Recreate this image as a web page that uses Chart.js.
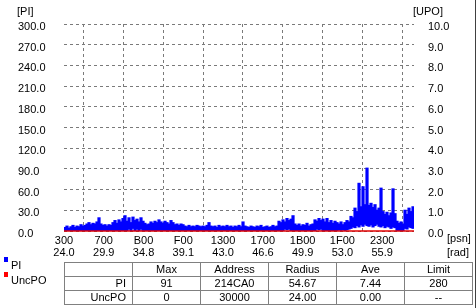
<!DOCTYPE html>
<html><head><meta charset="utf-8">
<script src="https://cdn.jsdelivr.net/npm/chart.js@4/dist/chart.umd.min.js"></script>
<style>
html,body{margin:0;padding:0;background:#fff;}
body{width:476px;height:308px;position:relative;overflow:hidden;font-family:"Liberation Sans",Arial,sans-serif;font-size:11px;color:#000;}
#wrap{position:absolute;left:0;top:0;width:476px;height:308px;}
.lbl{position:absolute;line-height:13px;white-space:nowrap;}
.sq{position:absolute;width:4px;height:5px;}
table{position:absolute;left:64px;top:262px;border-collapse:collapse;table-layout:fixed;width:409px;}
td{border:1px solid #808080;height:13px;padding:0;line-height:13px;text-align:center;font-size:11px;overflow:hidden;white-space:nowrap;}
td.h{text-align:right;padding-right:6px;}
#frame{position:absolute;left:475px;top:0;width:1px;height:308px;background:#404040;}
</style></head>
<body>
<div id="wrap"><canvas id="c" width="476" height="308"></canvas></div>
<div class="lbl" style="left:17px;top:5px;">[PI]</div>
<div class="lbl" style="left:413px;top:5px;">[UPO]</div>
<div class="lbl" style="left:447px;top:232px;">[psn]</div>
<div class="lbl" style="left:447px;top:246px;">[rad]</div>
<div class="sq" style="left:4px;top:257px;background:#0000ff;"></div>
<div class="lbl" style="left:11px;top:259px;">PI</div>
<div class="sq" style="left:4px;top:272px;background:#ff0000;"></div>
<div class="lbl" style="left:11px;top:274px;">UncPO</div>
<table id="tbl">
<colgroup><col style="width:68px"><col style="width:68px"><col style="width:68px"><col style="width:68px"><col style="width:68px"><col style="width:68px"></colgroup>
<tbody id="tb"></tbody>
</table>
<div id="frame"></div>
<script>
// ---- data ----
const psnTicks = [0x300, 0x700, 0xB00, 0xF00, 0x1300, 0x1700, 0x1B00, 0x1F00, 0x2300];
const hexLabels = ['300', '700', 'B00', 'F00', '1300', '1700', '1B00', '1F00', '2300'];
const radLabels = ['24.0', '29.9', '34.8', '39.1', '43.0', '46.6', '49.9', '53.0', '55.9'];
const psnStart = 0x300;
const psnEnd = 9780;
const psnStep = 51.5;

const piMax = [
  5,7,4,6,8,5,7,6,9,7,8,10,12,9,11,10,13,19,10,8,9,7,9,8,12,
  15,11,16,13,18,22,14,19,12,20,15,17,13,19,14,11,9,10,13,11,14,12,16,13,11,
  14,12,10,15,12,9,10,8,10,9,7,6,8,6,7,6,8,7,6,7,6,8,12,7,6,
  7,5,8,6,7,6,8,6,7,5,7,6,8,6,13,7,6,5,7,6,5,7,6,8,5,
  6,7,5,6,8,6,7,14,12,16,13,18,15,17,22,10,8,10,7,9,8,11,7,9,10,
  16,14,18,15,17,13,18,12,15,11,14,12,10,13,9,12,15,13,21,19,33,28,69,35,64,
  38,91,37,40,34,38,30,33,62,28,24,27,22,26,61,25,14,11,13,10,30,24,33,28,35
];
const piMin = [
  0,0,0,0,0,0,0,0,0,0,0,0,0,0,0,0,0,0,0,0,0,0,0,0,0,
  0,0,0,0,0,0,0,3,0,4,0,3,0,3,0,0,0,0,0,0,0,0,0,0,0,
  0,0,0,0,0,0,0,0,0,0,0,0,0,0,0,0,0,0,0,0,0,0,0,0,0,
  0,0,0,0,0,0,0,0,0,0,0,0,0,0,0,0,0,0,0,0,0,0,0,0,0,
  0,0,0,0,0,0,0,0,0,0,3,2,3,0,0,0,0,0,0,0,0,0,0,0,0,
  0,3,2,3,0,0,0,0,0,0,0,1,2,1,2,1,2,3,4,6,5,8,6,9,7,
  10,8,7,9,6,8,10,7,6,8,5,7,6,4,6,5,1,0,1,0,4,3,6,5,4
];
const uncpoPsn = [0x300, 9780];
const uncpoVal = [0, 0];

const tableHead = ['', 'Max', 'Address', 'Radius', 'Ave', 'Limit'];
const tableRows = [
  ['PI', '91', '214CA0', '54.67', '7.44', '280'],
  ['UncPO', '0', '30000', '24.00', '0.00', '--']
];

// ---- table ----
const tb = document.getElementById('tb');
[tableHead, ...tableRows].forEach((row, r) => {
  const tr = document.createElement('tr');
  row.forEach((cell, c) => {
    const td = document.createElement('td');
    td.textContent = cell;
    if (c === 0) td.className = 'h';
    tr.appendChild(td);
  });
  tb.appendChild(tr);
});

// ---- chart ----
const FONT = {family: '"Liberation Sans", Arial, sans-serif', size: 11};
const barData = piMax.map((v, i) => ({x: psnStart + psnStep * (i + 0.5), y: [piMin[i], v]}));
const lineData = uncpoPsn.map((x, i) => ({x: x, y: uncpoVal[i]}));

new Chart(document.getElementById('c'), {
  type: 'bar',
  data: {
    datasets: [
      {
        type: 'line', label: 'UncPO', data: lineData, yAxisID: 'y1',
        borderColor: '#e00000', borderWidth: 1.5, pointRadius: 0, clip: 4, order: 0
      },
      {
        type: 'bar', label: 'PI', data: barData, yAxisID: 'y',
        backgroundColor: '#0000ff', borderWidth: 0, inflateAmount: 0.6,
        barPercentage: 1, categoryPercentage: 1, order: 1
      }
    ]
  },
  options: {
    responsive: false,
    animation: false,
    events: [],
    layout: {padding: {left: 18, right: 0, top: 24, bottom: 47}},
    plugins: {legend: {display: false}, tooltip: {enabled: false}},
    scales: {
      x: {
        type: 'linear', min: psnStart, max: psnEnd, offset: false,
        afterBuildTicks: s => { s.ticks = psnTicks.map(v => ({value: v})); },
        afterFit: s => { s.height = 30; },
        grid: {color: '#7a7a7a', drawTicks: false, lineWidth: 1},
        border: {display: false, dash: [3, 3]},
        ticks: {
          autoSkip: false, maxRotation: 0, minRotation: 0, padding: 4, color: '#000',
          font: Object.assign({lineHeight: 1.1}, FONT),
          callback: (v, i) => [hexLabels[i], radLabels[i]]
        }
      },
      y: {
        position: 'left', min: 0, max: 300,
        afterFit: s => { s.width = 46; },
        grid: {color: '#7a7a7a', drawTicks: false, lineWidth: 1},
        border: {display: false, dash: [3, 3]},
        ticks: {stepSize: 30, crossAlign: 'far', padding: 4, labelOffset: 3, color: '#000', font: FONT,
          callback: v => Number(v).toFixed(1)}
      },
      y1: {
        position: 'right', min: 0, max: 10,
        afterFit: s => { s.width = 62; },
        grid: {display: false, drawTicks: false},
        border: {display: false},
        ticks: {stepSize: 1, padding: 14, labelOffset: 3, color: '#000', font: FONT,
          callback: v => Number(v).toFixed(1)}
      }
    }
  }
});
</script>
</body></html>
